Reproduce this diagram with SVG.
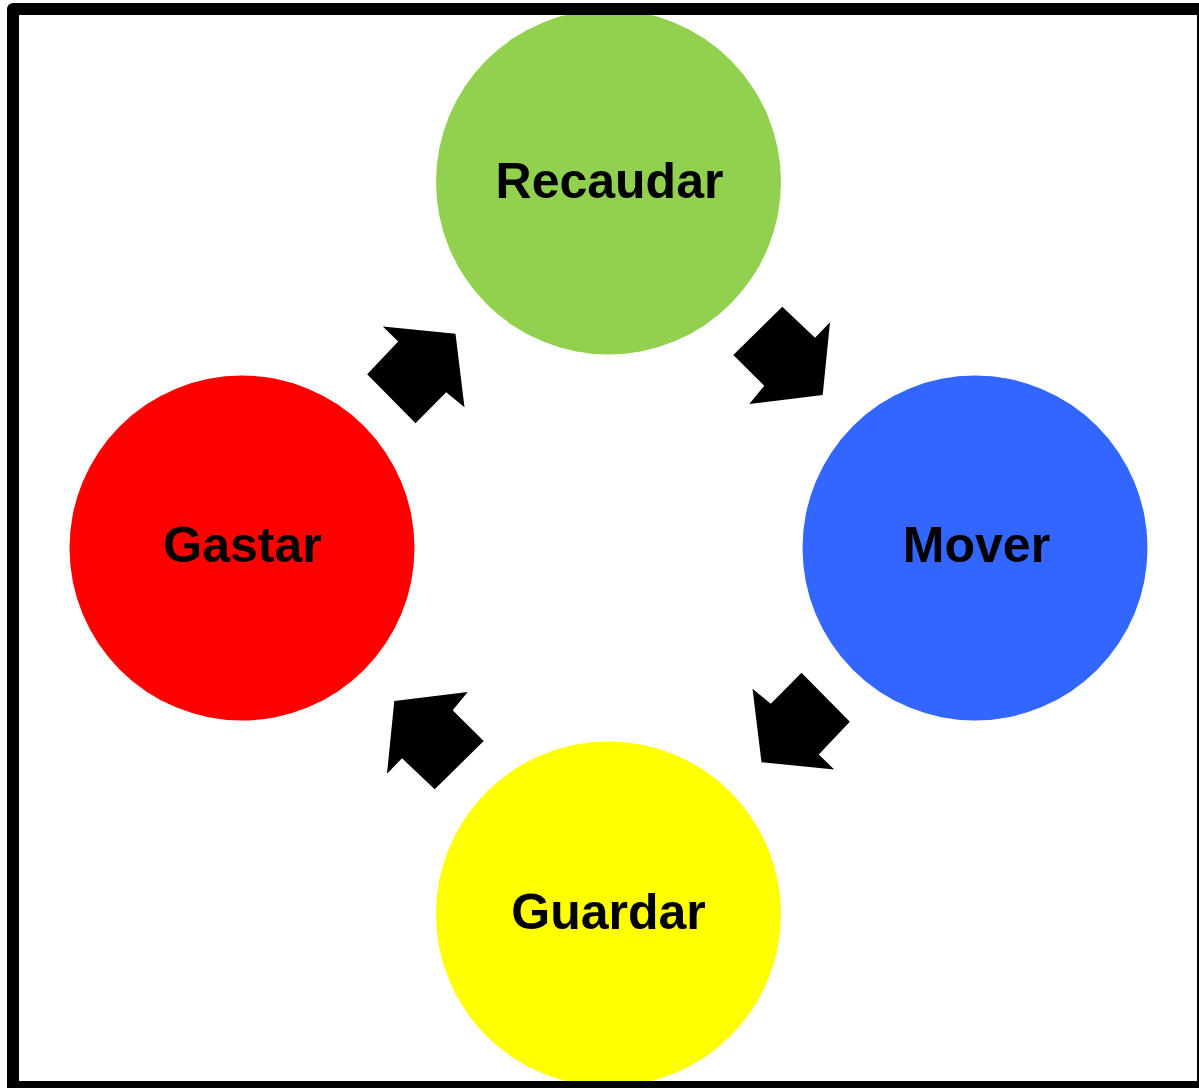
<svg xmlns="http://www.w3.org/2000/svg" width="1199" height="1088" viewBox="0 0 1199 1088">
<style>
.lbl{font-family:"Liberation Sans",Arial,sans-serif;font-weight:bold;font-size:50px;fill:#000;text-anchor:middle}
.arr{fill:#000}
</style>
<defs>
<path id="arrow" d="M782.3,306.7 L733.3,355 L764.3,385.7 L749.3,404 L822.7,395 L830,322.3 L815,337.7 Z"/>
</defs>
<rect x="0" y="0" width="1199" height="1088" fill="#fff"/>
<g id="recaudar">
<circle cx="608.5" cy="182" r="172.5" fill="#92D050"/>
<text class="lbl" x="609.5" y="198">Recaudar</text>
</g>
<g id="mover">
<circle cx="975" cy="548" r="172.5" fill="#3366FF"/>
<text class="lbl" x="976.5" y="562">Mover</text>
</g>
<g id="guardar">
<circle cx="608.5" cy="914" r="172.5" fill="#FFFF00"/>
<text class="lbl" x="608.5" y="929">Guardar</text>
</g>
<g id="gastar">
<circle cx="242" cy="548" r="172.5" fill="#FF0000"/>
<text class="lbl" x="242.5" y="562">Gastar</text>
</g>
<g id="connectors" class="arr">
<use href="#arrow"/>
<use href="#arrow" transform="rotate(90 608.5 548)"/>
<use href="#arrow" transform="rotate(180 608.5 548)"/>
<use href="#arrow" transform="rotate(270 608.5 548)"/>
</g>
<rect id="frame" x="13" y="9" width="1190" height="1078" fill="none" stroke="#000" stroke-width="12" stroke-linejoin="round"/>
</svg>
